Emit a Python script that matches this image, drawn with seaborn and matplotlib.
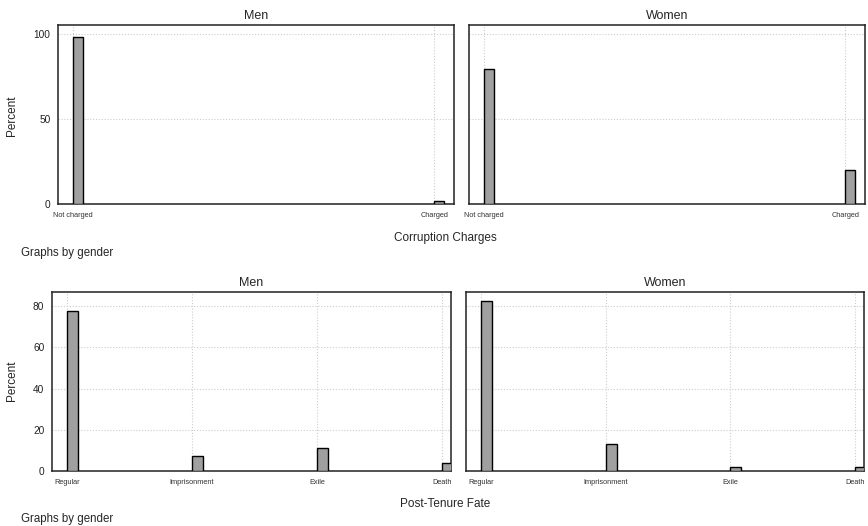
import numpy as np
import pandas as pd
import matplotlib
matplotlib.use("Agg")
import matplotlib.pyplot as plt
import seaborn as sns

# data (percent within gender)
GENDERS = ["Men", "Women"]

CORRUPTION_CATS = ["Not charged", "Charged"]
CORRUPTION_MEN = [98.2, 1.5]
CORRUPTION_WOMEN = [79.5, 20.0]

FATE_CATS = ["Regular", "Imprisonment", "Exile", "Death"]
FATE_MEN = [77.7, 7.1, 11.3, 3.7]
FATE_WOMEN = [82.7, 13.1, 1.8, 1.8]

BAR_COLOR = "#a0a0a0"
GRID_COLOR = "#cccccc"


def make_frame(cats, men, women, bar_w):
    rows = []
    for g, vals in zip(GENDERS, [men, women]):
        for i, (c, v) in enumerate(zip(cats, vals)):
            # stata-style bars start at the tick and extend to the right
            rows.append({"gender": g, "cat": c, "pos": i + bar_w / 2, "percent": v})
    return pd.DataFrame(rows)


def draw_panel(ax, df, cats, bar_w, xlim, ylim, yticks, show_y):
    sns.barplot(data=df, x="pos", y="percent", native_scale=True, width=bar_w,
                color=BAR_COLOR, edgecolor="black", linewidth=1.0,
                saturation=1, ax=ax, zorder=3)
    ax.set_xlim(*xlim)
    ax.set_ylim(*ylim)
    ax.set_xticks(range(len(cats)))
    ax.set_xticklabels(cats, fontsize=5.3, color="#333333")
    ax.set_yticks(yticks)
    if show_y:
        ax.set_yticklabels([str(t) for t in yticks], fontsize=7.3, color="#222222")
        ax.tick_params(axis="y", length=3.5, width=0.7, pad=2)
    else:
        ax.set_yticklabels([])
        ax.tick_params(axis="y", length=0)
    ax.tick_params(axis="x", length=3.5, width=0.7, pad=2.5)
    ax.grid(True, linestyle=(0, (1, 1.6)), color=GRID_COLOR, linewidth=0.8, zorder=0)
    ax.set_axisbelow(True)
    for s in ax.spines.values():
        s.set_color("#222222")
        s.set_linewidth(1.1)
    ax.set_xlabel("")
    ax.set_ylabel("")


sns.set_style("white")
plt.rcParams["font.family"] = ["Liberation Sans", "DejaVu Sans"]

fig = plt.figure(figsize=(8.68, 5.26), dpi=100)
W, H = 868, 526


def add_ax(left, right, top, bottom):
    return fig.add_axes([left / W, 1 - bottom / H, (right - left) / W, (bottom - top) / H])


# top row: corruption charges
df_c = make_frame(CORRUPTION_CATS, CORRUPTION_MEN, CORRUPTION_WOMEN, 0.028)
ax1 = add_ax(58, 454, 25, 204)
ax2 = add_ax(469, 865, 25, 204)
for ax, g, show in [(ax1, "Men", True), (ax2, "Women", False)]:
    draw_panel(ax, df_c[df_c["gender"] == g], CORRUPTION_CATS, 0.028,
               (-0.042, 1.055), (0, 105.3), [0, 50, 100], show)
    ax.set_title(g, fontsize=9, pad=4)

# bottom row: post-tenure fate
df_f = make_frame(FATE_CATS, FATE_MEN, FATE_WOMEN, 0.088)
ax3 = add_ax(52, 451, 292, 471)
ax4 = add_ax(466, 864, 292, 471)
for ax, g, show in [(ax3, "Men", True), (ax4, "Women", False)]:
    draw_panel(ax, df_f[df_f["gender"] == g], FATE_CATS, 0.088,
               (-0.12, 3.072), (0, 86.9), [0, 20, 40, 60, 80], show)
    ax.set_title(g, fontsize=9, pad=4)

fig.text(12 / W, 1 - 116 / H, "Percent", rotation=90, fontsize=8.5, va="center", ha="center")
fig.text(12 / W, 1 - 381 / H, "Percent", rotation=90, fontsize=8.5, va="center", ha="center")
fig.text(445 / W, 1 - 238 / H, "Corruption Charges", fontsize=8.5, ha="center", va="center")
fig.text(445 / W, 1 - 504 / H, "Post-Tenure Fate", fontsize=8.5, ha="center", va="center")
fig.text(21 / W, 1 - 253 / H, "Graphs by gender", fontsize=8.3, ha="left", va="center")
fig.text(21 / W, 1 - 519 / H, "Graphs by gender", fontsize=8.3, ha="left", va="center")

fig.savefig("out.png", dpi=100, facecolor="white")
